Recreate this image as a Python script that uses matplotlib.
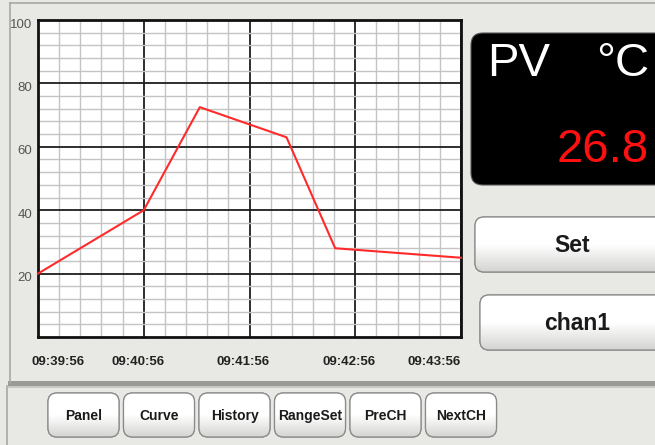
import matplotlib
matplotlib.use("Agg")
import matplotlib.pyplot as plt
import matplotlib.transforms as mtransforms
from matplotlib.patches import FancyBboxPatch, Rectangle
import numpy as np

# data: minutes after 09:39:56, PV in percent of range
time_min = [0.0, 1.0, 1.53, 2.35, 2.81, 4.0]
pv_values = [20, 40, 72.5, 63, 28, 25]
time_labels = ["09:39:56", "09:40:56", "09:41:56", "09:42:56", "09:43:56"]
y_labels = ["20", "40", "60", "80", "100"]
pv_reading = "26.8"
unit = "°C"
side_buttons = ["Set", "chan1"]
bottom_buttons = ["Panel", "Curve", "History", "RangeSet", "PreCH", "NextCH"]

bg_col = "#e8e8e4"
fnt = ["Liberation Sans", "DejaVu Sans"]

W, H = 655, 445
fig = plt.figure(figsize=(W / 100, H / 100), dpi=100)
fig.patch.set_facecolor(bg_col)

# background axes in pixel coordinates
bg = fig.add_axes([0, 0, 1, 1], zorder=0)
bg.set_xlim(0, W)
bg.set_ylim(H, 0)
bg.axis("off")

grad = np.linspace(0, 1, 64).reshape(-1, 1)
btn_cmap = matplotlib.colors.LinearSegmentedColormap.from_list("btn", ["#ffffff", "#ffffff", "#d4d4d2"])


def button(x, y, w, h, text, size, r=9):
    p = FancyBboxPatch((x, y), w, h, boxstyle="round,pad=0,rounding_size=%d" % r,
                       fc="white", ec="#8a8a8a", lw=0.9, zorder=2)
    bg.add_patch(p)
    im = bg.imshow(grad, extent=(x, x + w, y + h, y), cmap=btn_cmap, aspect="auto", zorder=2.5)
    im.set_clip_path(p)
    edge = FancyBboxPatch((x, y), w, h, boxstyle="round,pad=0,rounding_size=%d" % r,
                          fc="none", ec="#8a8a8a", lw=0.9, zorder=3)
    bg.add_patch(edge)
    bg.text(x + w / 2, y + h / 2 + 1, text, ha="center", va="center", fontsize=size,
            fontweight="bold", family=fnt, color="#1a1a1a", zorder=4)


# outer frame lines
bg.plot([10, W], [3, 3], color="#a8a8a8", lw=1.2)
bg.plot([10, 10], [3, 383], color="#a8a8a8", lw=1.2)
bg.plot([7, 7], [386, H], color="#a8a8a8", lw=1.2)
bg.add_patch(Rectangle((8, 381), W - 8, 5, fc="#9a9a98", ec="none"))
bg.add_patch(Rectangle((8, 386), W - 8, 2, fc="#c8c8c6", ec="none"))

# PV display
bg.add_patch(FancyBboxPatch((471, 33), 200, 152, boxstyle="round,pad=0,rounding_size=12",
                            fc="black", ec="#555555", lw=0.8, zorder=2))
bg.text(487, 64, "PV", color="white", fontsize=34, family=fnt, va="center", ha="left", zorder=4)
bg.text(649, 64, unit, color="white", fontsize=34, family=fnt, va="center", ha="right", zorder=4)
bg.text(649, 150, pv_reading, color="#ff1010", fontsize=34, family=fnt, va="center", ha="right", zorder=4)

button(475, 217, 195, 55, side_buttons[0], 16.5)
button(480, 295, 195, 55, side_buttons[1], 16.5)

for i, name in enumerate(bottom_buttons):
    button(48 + i * 75.5, 393, 71, 44, name, 10)

# trend chart
left, right, top, bottom = 38, 461, 20, 337
ax = fig.add_axes([left / W, 1 - bottom / H, (right - left) / W, (bottom - top) / H], zorder=1)
ax.set_facecolor("white")
ax.set_xlim(0, 4)
ax.set_ylim(0, 100)
ax.set_xticks(range(len(time_labels)))
ax.set_xticklabels(time_labels)
ax.set_yticks([20, 40, 60, 80, 100])
ax.set_yticklabels(y_labels)
ax.set_xticks(np.arange(0, 4.01, 0.2), minor=True)
ax.set_yticks(np.arange(0, 100.1, 4), minor=True)
ax.grid(which="minor", color="#c4c4c4", lw=1.0)
ax.grid(which="major", color="#1e1e1e", lw=1.3)
ax.set_axisbelow(True)
ax.tick_params(which="both", length=0)
ax.tick_params(axis="x", pad=14, labelsize=9.5, labelcolor="#222222")
ax.tick_params(axis="y", pad=4, labelsize=9.5, labelcolor="#555555")
for lab in ax.get_xticklabels():
    lab.set_fontweight("bold")
    lab.set_family(fnt)
for lab in ax.get_yticklabels():
    lab.set_family(fnt)
    lab.set_transform(lab.get_transform() + mtransforms.ScaledTranslation(0, -3 / 100, fig.dpi_scale_trans))
xl = ax.get_xticklabels()
xl[0].set_ha("left")
xl[-1].set_ha("right")
for lab in xl[:-1]:
    lab.set_transform(lab.get_transform() + mtransforms.ScaledTranslation(-6 / 100, 0, fig.dpi_scale_trans))
for s in ax.spines.values():
    s.set_color("#111111")
    s.set_linewidth(2)

ax.plot(time_min, pv_values, color="#ff2a2a", lw=1.5, zorder=5, clip_on=False)

fig.savefig("out.png", dpi=100, facecolor=fig.get_facecolor())
